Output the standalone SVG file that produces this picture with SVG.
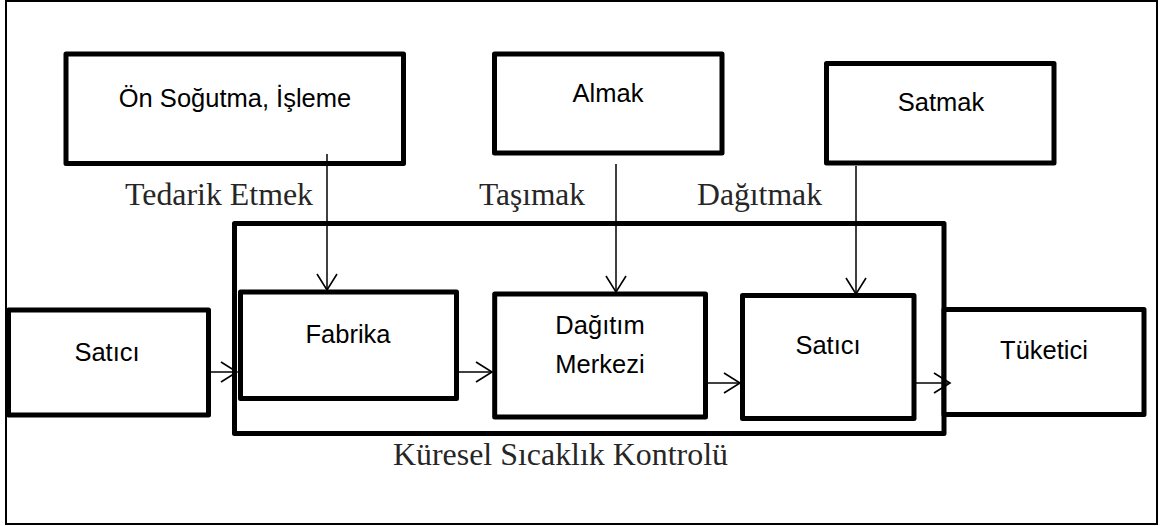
<svg xmlns="http://www.w3.org/2000/svg" width="1166" height="526" viewBox="0 0 1166 526">
  <style>
    .box { fill: #ffffff; stroke: #000000; stroke-width: 5; stroke-linejoin: round; }
    .frame { fill: none; stroke: #000000; stroke-width: 2; }
    .group { fill: none; stroke: #000000; stroke-width: 5; stroke-linejoin: round; }
    .lbl { font-family: "Liberation Sans", Arial, sans-serif; font-size: 25.5px; fill: #000000; text-anchor: middle; }
    .cap { font-family: "Liberation Serif", "Times New Roman", serif; font-size: 31px; fill: #262626; }
    .wire { fill: none; stroke: #000000; stroke-width: 1.5; marker-end: url(#open); }
  </style>
  <defs>
    <marker id="open" markerUnits="userSpaceOnUse" markerWidth="20" markerHeight="24" refX="16" refY="10" orient="auto" overflow="visible">
      <path d="M0,0 L16,10 L0,20" fill="none" stroke="#000000" stroke-width="1.6"/>
    </marker>
  </defs>

  <rect width="1166" height="526" fill="#ffffff"/>
  <!-- page frame -->
  <rect class="frame" x="6" y="1" width="1151" height="523"/>

  <!-- global temperature control envelope -->
  <g id="control">
    <rect class="group" x="234.5" y="223.5" width="709.5" height="210"/>
    <text class="cap" x="393" y="465" textLength="335" lengthAdjust="spacingAndGlyphs">Küresel Sıcaklık Kontrolü</text>
  </g>

  <!-- activity boxes -->
  <g id="precool">
    <rect class="box" x="66" y="54" width="337.5" height="109.5"/>
    <text class="lbl" x="235" y="107">Ön Soğutma, İşleme</text>
  </g>
  <g id="receive">
    <rect class="box" x="494.5" y="54" width="227.5" height="99"/>
    <text class="lbl" x="608" y="102">Almak</text>
  </g>
  <g id="sell">
    <rect class="box" x="826.5" y="63.5" width="227.5" height="99.5"/>
    <text class="lbl" x="941" y="111">Satmak</text>
  </g>

  <!-- chain nodes -->
  <g id="supplier">
    <rect class="box" x="8.5" y="310" width="200" height="105"/>
    <text class="lbl" x="107" y="361">Satıcı</text>
  </g>
  <g id="factory">
    <rect class="box" x="240.5" y="292" width="216" height="106.5"/>
    <text class="lbl" x="348" y="343">Fabrika</text>
  </g>
  <g id="dc">
    <rect class="box" x="494.7" y="294" width="210.8" height="123"/>
    <text class="lbl" x="600" y="334">Dağıtım</text>
    <text class="lbl" x="600" y="373">Merkezi</text>
  </g>
  <g id="retailer">
    <rect class="box" x="742.5" y="295.5" width="171.5" height="123"/>
    <text class="lbl" x="828" y="354">Satıcı</text>
  </g>
  <g id="consumer">
    <rect class="box" x="944" y="309.5" width="200" height="105"/>
    <text class="lbl" x="1044" y="359">Tüketici</text>
  </g>

  <!-- step labels -->
  <g id="step-labels">
    <text class="cap" x="125" y="205" textLength="188" lengthAdjust="spacingAndGlyphs">Tedarik Etmek</text>
    <text class="cap" x="479" y="205" textLength="106" lengthAdjust="spacingAndGlyphs">Taşımak</text>
    <text class="cap" x="697" y="205" textLength="125" lengthAdjust="spacingAndGlyphs">Dağıtmak</text>
  </g>

  <!-- connectors -->
  <g id="connectors">
    <path class="wire" d="M327,154 V290"/>
    <path class="wire" d="M616,164 V292"/>
    <path class="wire" d="M856,166 V294"/>
    <path class="wire" d="M211,372 H237"/>
    <path class="wire" d="M459,372 H492"/>
    <path class="wire" d="M708,383 H740"/>
    <path class="wire" d="M916,383 H950"/>
  </g>
</svg>
